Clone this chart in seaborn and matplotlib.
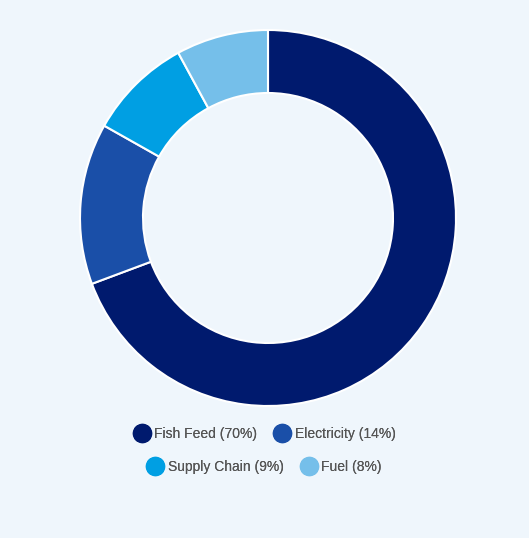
import matplotlib
matplotlib.use("Agg")
import matplotlib.pyplot as plt
from matplotlib.lines import Line2D
import seaborn as sns

categories = ["Fish Feed", "Electricity", "Supply Chain", "Fuel"]
values = [70, 14, 9, 8]
colors = ["#001a6e", "#1a4fa8", "#009fe3", "#75bfea"]

sns.set_theme(style="white")
plt.rcParams['font.family'] = ['Liberation Sans', 'DejaVu Sans']
bg = "#eff6fc"
W, H = 529, 538
fig = plt.figure(figsize=(W/100, H/100), dpi=100, facecolor=bg)
cx, cy, R = 268, 218, 188
ax = fig.add_axes([(cx-R)/W, (H-cy-R)/H, 2*R/W, 2*R/H])
ax.set_facecolor(bg)
ax.pie(values, colors=colors, startangle=90, counterclock=False, radius=1,
       wedgeprops=dict(width=63/188, edgecolor="white", linewidth=1.5))
ax.set_xlim(-1, 1); ax.set_ylim(-1, 1); ax.set_aspect("equal"); ax.axis("off")

labels = [f"{c} ({v}%)" for c, v in zip(categories, values)]
handles = [Line2D([], [], marker="o", ls="", markersize=13, markerfacecolor=col,
                  markeredgecolor=col) for col in colors]
for row, ypx in [(0, 434), (1, 467)]:
    idx = [2*row, 2*row+1]
    leg = fig.legend([handles[i] for i in idx], [labels[i] for i in idx], ncol=2,
                     loc="center", bbox_to_anchor=(0.5, 1 - ypx/H), frameon=False,
                     fontsize=10, labelcolor="#555555", handletextpad=0.3,
                     columnspacing=1.2, handlelength=1.2)
    fig.add_artist(leg)
fig.savefig("out.png", dpi=100, facecolor=bg)
